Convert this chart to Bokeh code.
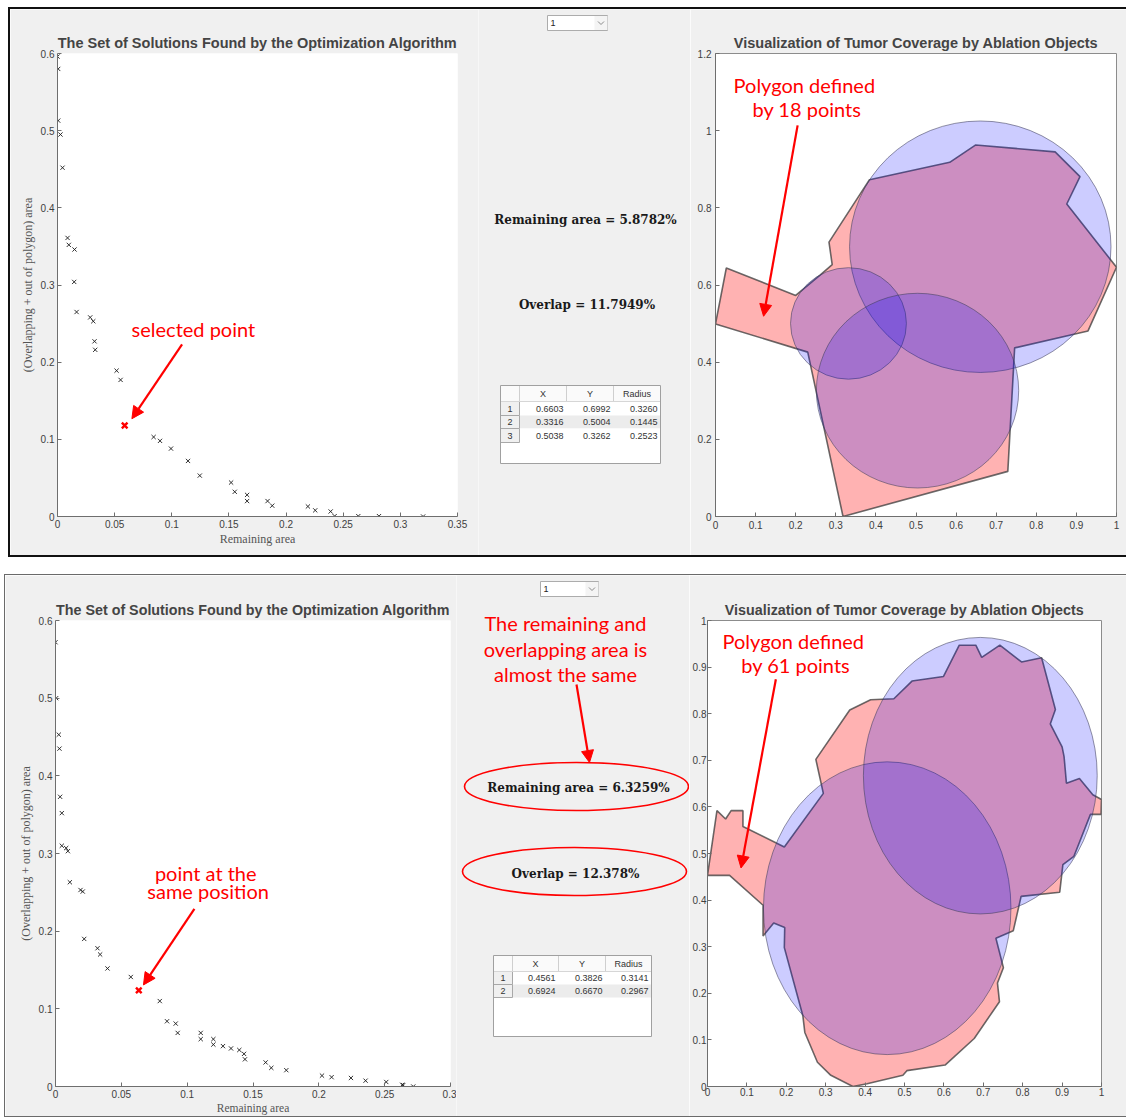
from bokeh.plotting import figure
from bokeh.models import Range1d, FixedTicker, CustomJSTickFormatter, Arrow, NormalHead, Spacer
from bokeh.layouts import row, column
from bokeh.embed import file_html
from bokeh.resources import INLINE
from bokeh.core.properties import value

# ---------------- data : top case (18-point polygon, 3 ablation objects) ----------------
top_remaining = [0.0000, 0.0006, 0.0006, 0.0026, 0.0044, 0.0088, 0.0099, 0.0149, 0.0146, 0.0167,
                 0.0286, 0.0313, 0.0324, 0.0330, 0.0517, 0.0552, 0.0841, 0.0897, 0.0993, 0.1142,
                 0.1245, 0.1519, 0.1551, 0.1659, 0.1659, 0.1838, 0.1879, 0.2191, 0.2255, 0.2390,
                 0.2425, 0.2632, 0.2813, 0.3199]
top_overlap = [0.596, 0.580, 0.513, 0.495, 0.452, 0.361, 0.352, 0.346, 0.304, 0.265,
               0.258, 0.253, 0.227, 0.216, 0.189, 0.177, 0.103, 0.098, 0.088, 0.072,
               0.053, 0.044, 0.032, 0.028, 0.020, 0.020, 0.014, 0.013, 0.008, 0.0065,
               0.0005, 0.0005, 0.0005, 0.0]
top_remaining_pct = 5.8782
top_overlap_pct = 11.7949
top_poly_x = [0.000, 0.027, 0.200, 0.260, 0.291, 0.283, 0.384, 0.584, 0.649, 0.847,
              0.909, 0.876, 1.000, 0.929, 0.746, 0.729, 0.318, 0.230]
top_poly_y = [0.499, 0.644, 0.573, 0.625, 0.653, 0.711, 0.873, 0.918, 0.963, 0.945,
              0.881, 0.810, 0.646, 0.481, 0.437, 0.117, 0.000, 0.426]
top_cx = [0.6603, 0.3316, 0.5038]
top_cy = [0.6992, 0.5004, 0.3262]
top_r = [0.3260, 0.1445, 0.2523]

# ---------------- data : bottom case (61-point polygon, 2 ablation objects) ----------------
bot_remaining = [0.0000, 0.0005, 0.0025, 0.0030, 0.0035, 0.0048, 0.0048, 0.0081, 0.0094, 0.0109,
                 0.0190, 0.0207, 0.0218, 0.0319, 0.0339, 0.0395, 0.0572, 0.0792, 0.0847, 0.0913,
                 0.0928, 0.1103, 0.1103, 0.1199, 0.1199, 0.1272, 0.1333, 0.1396, 0.1432, 0.1439,
                 0.1596, 0.1639, 0.1753, 0.2024, 0.2097, 0.2244, 0.2355, 0.2512, 0.2633, 0.2641,
                 0.2717]
bot_overlap = [0.572, 0.500, 0.453, 0.435, 0.373, 0.352, 0.310, 0.307, 0.303, 0.263,
               0.253, 0.251, 0.190, 0.178, 0.170, 0.152, 0.141, 0.110, 0.084, 0.081,
               0.069, 0.069, 0.061, 0.061, 0.054, 0.052, 0.049, 0.047, 0.042, 0.035,
               0.031, 0.024, 0.021, 0.014, 0.012, 0.011, 0.0075, 0.0058, 0.0022, 0.0018,
               0.0]
bot_remaining_pct = 6.3259
bot_overlap_pct = 12.378
bot_poly_x = [0.000, 0.056, 0.141, 0.141, 0.168, 0.196, 0.195, 0.242, 0.247, 0.279,
              0.313, 0.369, 0.405, 0.496, 0.506, 0.603, 0.677, 0.741, 0.736, 0.751,
              0.732, 0.776, 0.796, 0.894, 0.902, 0.930, 0.972, 0.999, 1.000, 0.978,
              0.944, 0.911, 0.905, 0.900, 0.870, 0.883, 0.848, 0.797, 0.742, 0.696,
              0.681, 0.639, 0.599, 0.519, 0.473, 0.414, 0.361, 0.275, 0.294, 0.195,
              0.090, 0.090, 0.060, 0.046, 0.024]
bot_poly_y = [0.453, 0.453, 0.389, 0.323, 0.351, 0.341, 0.298, 0.152, 0.116, 0.052,
              0.024, 0.000, 0.006, 0.024, 0.034, 0.046, 0.103, 0.182, 0.222, 0.255,
              0.318, 0.334, 0.408, 0.417, 0.476, 0.494, 0.584, 0.584, 0.616, 0.626,
              0.661, 0.651, 0.708, 0.729, 0.778, 0.809, 0.920, 0.911, 0.947, 0.921,
              0.947, 0.947, 0.880, 0.870, 0.832, 0.830, 0.808, 0.702, 0.629, 0.514,
              0.558, 0.592, 0.592, 0.574, 0.592]
bot_cx = [0.4561, 0.6924]
bot_cy = [0.3826, 0.6670]
bot_r = [0.3141, 0.2967]

# ---------------- tick labels ----------------
scatter_x_ticks_top = [0, 0.05, 0.1, 0.15, 0.2, 0.25, 0.3, 0.35]
scatter_x_ticks_bot = [0, 0.05, 0.1, 0.15, 0.2, 0.25, 0.3]
scatter_y_ticks = [0, 0.1, 0.2, 0.3, 0.4, 0.5, 0.6]
poly_x_ticks = [0, 0.1, 0.2, 0.3, 0.4, 0.5, 0.6, 0.7, 0.8, 0.9, 1]
top_poly_y_ticks = [0, 0.2, 0.4, 0.6, 0.8, 1, 1.2]
bot_poly_y_ticks = [0, 0.1, 0.2, 0.3, 0.4, 0.5, 0.6, 0.7, 0.8, 0.9, 1]

table_headers = ["X", "Y", "Radius"]

PANEL_BG = "#f0f0f0"
AX_COL = "#6e6e6e"
FMT = "return Number(tick.toFixed(3)).toString();"
RED = "#ff0000"
NOTE_FONT = value("Lato")


def style_axes(p, xticks, yticks, tick_standoff=4, label_size="12px", label_standoff=3):
    p.xaxis.ticker = FixedTicker(ticks=xticks)
    p.yaxis.ticker = FixedTicker(ticks=yticks)
    for ax in p.axis:
        ax.formatter = CustomJSTickFormatter(code=FMT)
        ax.major_tick_in = 4
        ax.major_tick_out = 0
        ax.minor_tick_line_color = None
        ax.axis_line_color = AX_COL
        ax.major_tick_line_color = AX_COL
        ax.major_label_text_font = "Liberation Sans"
        ax.major_label_text_font_size = "10px"
        ax.major_label_text_color = "#404040"
        ax.major_label_standoff = tick_standoff
        ax.axis_label_text_font = "Liberation Serif"
        ax.axis_label_text_font_style = "normal"
        ax.axis_label_text_font_size = label_size
        ax.axis_label_text_color = "#555555"
        ax.axis_label_standoff = label_standoff
    p.grid.visible = False


def note(p, xs, ys, lines, size="20px"):
    p.text(x=xs, y=ys, text=lines, text_color=RED, text_font=NOTE_FONT,
           text_font_size=size, text_align="center", text_baseline="middle")


def red_arrow(p, xs, ys, xe, ye):
    p.add_layout(Arrow(end=NormalHead(size=12, fill_color=RED, line_color=RED, line_width=1),
                       x_start=xs, y_start=ys, x_end=xe, y_end=ye,
                       line_color=RED, line_width=2.2))


def set_title(p, text, size):
    p.title.text = text
    p.title.align = "center"
    p.title.text_font = "Liberation Sans"
    p.title.text_font_style = "bold"
    p.title.text_font_size = size
    p.title.standoff = 5


def scatter_fig(width, height, mb, xmax, xticks, rem, ovl, sel_x, sel_y, title_size, xlabel_size):
    p = figure(width=width, height=height, x_range=Range1d(0, xmax), y_range=Range1d(0, 0.6),
               output_backend="svg", toolbar_location=None,
               min_border_left=mb[0], min_border_right=mb[1],
               min_border_top=mb[2], min_border_bottom=mb[3])
    set_title(p, "The Set of Solutions Found by the Optimization Algorithm", title_size)
    p.border_fill_color = PANEL_BG
    p.background_fill_color = "white"
    p.outline_line_color = None
    p.xaxis.axis_label = "Remaining area"
    p.yaxis.axis_label = "(Overlapping + out of polygon) area"
    style_axes(p, xticks, scatter_y_ticks, tick_standoff=3)
    p.xaxis.axis_label_text_font_size = xlabel_size
    p.xaxis.axis_label_standoff = 1
    p.scatter(rem, ovl, marker="x", size=6, line_color="#1a1a1a", line_width=0.9)
    p.scatter([sel_x], [sel_y], marker="x", size=8, line_color=RED, line_width=2.4)
    return p


def poly_fig(width, height, mb, ymax, yticks, px, py, cx, cy, cr, title_size, tick_standoff):
    p = figure(width=width, height=height, x_range=Range1d(0, 1), y_range=Range1d(0, ymax),
               output_backend="svg", toolbar_location=None,
               min_border_left=mb[0], min_border_right=mb[1],
               min_border_top=mb[2], min_border_bottom=mb[3])
    set_title(p, "Visualization of Tumor Coverage by Ablation Objects", title_size)
    p.border_fill_color = PANEL_BG
    p.background_fill_color = "white"
    p.outline_line_color = "#8c8c8c"
    style_axes(p, poly_x_ticks, yticks, tick_standoff=tick_standoff)
    p.patch(px, py, fill_color="red", fill_alpha=0.3, line_color="#3a3a3a",
            line_alpha=0.75, line_width=1.6)
    p.ellipse(x=cx, y=cy, width=[2 * r for r in cr], height=[2 * r for r in cr],
              fill_color="blue", fill_alpha=0.2, line_color="#3c3c5a", line_alpha=0.55,
              line_width=1)
    return p


def mid_fig(width, height):
    p = figure(width=width, height=height, x_range=Range1d(0, width), y_range=Range1d(height, 0),
               x_axis_location=None, y_axis_location=None, min_border=0,
               output_backend="svg", toolbar_location=None)
    p.background_fill_color = PANEL_BG
    p.border_fill_color = PANEL_BG
    p.outline_line_color = None
    p.grid.visible = False
    return p


def dropdown(p, x0, x1, y0, y1):
    p.quad(left=[x0], right=[x1], top=[y0], bottom=[y1], fill_color="white",
           line_color="#acacac", line_width=1)
    p.quad(left=[x1 - 13], right=[x1], top=[y0 + 0.5], bottom=[y1 - 0.5], fill_color="#f4f4f4",
           line_color=None)
    cxm, cym = x1 - 6.5, (y0 + y1) / 2
    p.line([cxm - 3, cxm, cxm + 3], [cym - 1.5, cym + 1.5, cym - 1.5], line_color="#8a8a8a",
           line_width=1)
    p.text(x=[x0 + 3], y=[cym], text=["1"], text_font=value("Liberation Sans"),
           text_font_size="9px", text_color="#222222", text_baseline="middle")


def table(p, cols, rows, bottom, cx, cy, cr):
    x0, xe = cols[0], cols[-1]
    p.quad(left=[x0], right=[xe], top=[rows[0]], bottom=[bottom], fill_color="white", line_color=None)
    p.quad(left=[x0], right=[xe], top=[rows[0]], bottom=[rows[1]], fill_color="#fafafa",
           line_color=None)
    n = len(cx)
    for i in range(n):
        shade = "white" if i % 2 == 0 else "#ececec"
        p.quad(left=[cols[1]], right=[xe], top=[rows[i + 1]], bottom=[rows[i + 2]],
               fill_color=shade, line_color=None)
        p.quad(left=[x0], right=[cols[1]], top=[rows[i + 1]], bottom=[rows[i + 2]],
               fill_color="#f0f0f0", line_color="#a8a8a8", line_width=1)
    p.segment(x0=cols[1:-1], y0=[rows[0]] * 3, x1=cols[1:-1], y1=[rows[1]] * 3,
              line_color="#cfcfcf", line_width=1)
    p.segment(x0=[x0], y0=[rows[1]], x1=[xe], y1=[rows[1]], line_color="#d6d6d6", line_width=1)
    p.quad(left=[x0], right=[xe], top=[rows[0]], bottom=[bottom], fill_color=None,
           line_color="#a0a0a0", line_width=1)
    font = value("Liberation Sans")
    hx = [(cols[k] + cols[k + 1]) / 2 for k in range(1, 4)]
    hy = (rows[0] + rows[1]) / 2
    p.text(x=hx, y=[hy] * 3, text=table_headers, text_font=font, text_font_size="9px",
           text_color="#333333", text_align="center", text_baseline="middle")
    ry = [(rows[i + 1] + rows[i + 2]) / 2 for i in range(n)]
    p.text(x=[(cols[0] + cols[1]) / 2] * n, y=ry, text=[str(i + 1) for i in range(n)],
           text_font=font, text_font_size="9px", text_color="#333333", text_align="center",
           text_baseline="middle")
    for k, vals in enumerate([cx, cy, cr]):
        p.text(x=[cols[k + 2] - 3] * n, y=ry, text=["%.4f" % v for v in vals], text_font=font,
               text_font_size="9px", text_color="#333333", text_align="right",
               text_baseline="middle")


def stat_texts(p, xs, ys, rem_pct, ovl_pct):
    p.text(x=xs, y=ys, text=["Remaining area = %g%%" % rem_pct, "Overlap = %g%%" % ovl_pct],
           text_font=value("DejaVu Serif"), text_font_style="bold", text_font_size="12px",
           text_color="#1a1a1a", text_align="center", text_baseline="middle")


# ====================== TOP PANEL ======================
TOP_H = 546
s1 = scatter_fig(468, TOP_H, (47, 21, 44, 39), 0.35, scatter_x_ticks_top, top_remaining,
                 top_overlap, top_remaining_pct / 100, top_overlap_pct / 100, "14.5px", "12px")
note(s1, [0.1189], [0.243], ["selected point"])
red_arrow(s1, 0.109, 0.223, 0.0651, 0.1267)

m1 = mid_fig(212, TOP_H)
dropdown(m1, 69, 129, 6, 21)
stat_texts(m1, [107, 108.5], [210, 295], top_remaining_pct, top_overlap_pct)
table(m1, [22, 41, 88, 135, 182], [376, 392, 406, 419, 433], 454, top_cx, top_cy, top_r)

q1 = poly_fig(436, TOP_H, (25, 10, 44, 39), 1.2, top_poly_y_ticks, top_poly_x, top_poly_y,
              top_cx, top_cy, top_r, "14.5px", 4)
note(q1, [0.2215, 0.228], [1.119, 1.055], ["Polygon defined", "by 18 points"])
red_arrow(q1, 0.2048, 1.0138, 0.1199, 0.519)

top_panel = row(s1, column(m1, spacing=0), q1, spacing=0,
                styles={"outline": "2px solid #111111"})

# ====================== BOTTOM PANEL ======================
BOT_H = 541
s2 = scatter_fig(451, BOT_H, (50, 6, 45, 28), 0.3, scatter_x_ticks_bot, bot_remaining,
                 bot_overlap, bot_remaining_pct / 100, bot_overlap_pct / 100, "14.3px", "11.5px")
note(s2, [0.1141, 0.1159], [0.2754, 0.2519], ["point at the", "same position"])
red_arrow(s2, 0.1055, 0.2288, 0.0668, 0.1308)

m2 = mid_fig(233, BOT_H)
dropdown(m2, 84, 142, 6, 21)
note(m2, [109, 109, 109], [47, 73, 98],
     ["The remaining and", "overlapping area is", "almost the same"])
m2.add_layout(Arrow(end=NormalHead(size=12, fill_color=RED, line_color=RED, line_width=1),
                    x_start=120, y_start=109, x_end=133, y_end=187,
                    line_color=RED, line_width=2.2))
m2.ellipse(x=[120, 118], y=[211, 296], width=[224, 224], height=[48, 48], fill_color=None,
           line_color=RED, line_width=1.6)
stat_texts(m2, [122, 119], [212, 298], bot_remaining_pct, bot_overlap_pct)
table(m2, [37, 56, 102, 149, 195], [380, 396, 409, 422], 461, bot_cx, bot_cy, bot_r)

q2 = poly_fig(437, BOT_H, (17, 25, 45, 28), 1.0, bot_poly_y_ticks, bot_poly_x, bot_poly_y,
              bot_cx, bot_cy, bot_r, "14.3px", 1)
note(q2, [0.2178, 0.224], [0.957, 0.904], ["Polygon defined", "by 61 points"])
red_arrow(q2, 0.1735, 0.874, 0.0851, 0.469)

bottom_panel = row(s2, column(m2, spacing=0), q2, spacing=0,
                   styles={"outline": "1px solid #6a6a6a"})

layout = column(
    Spacer(width=1126, height=9),
    row(Spacer(width=10, height=TOP_H), top_panel, spacing=0),
    Spacer(width=1126, height=20),
    row(Spacer(width=5, height=BOT_H), bottom_panel, spacing=0),
    spacing=0,
)

open("out.html", "w").write(file_html(layout, INLINE))
